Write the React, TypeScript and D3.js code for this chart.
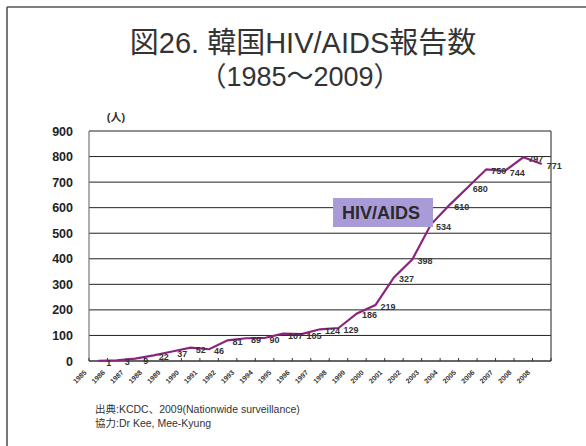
import React from "react";
import * as d3 from "d3";

const years = [
  "1985","1986","1987","1988","1989","1990","1991","1992","1993","1994",
  "1995","1996","1997","1998","1999","2000","2001","2002","2003","2004",
  "2005","2006","2007","2008","2009",
];
// the reference mislabels the last year as 2008
const yearLabels = [
  "1985","1986","1987","1988","1989","1990","1991","1992","1993","1994",
  "1995","1996","1997","1998","1999","2000","2001","2002","2003","2004",
  "2005","2006","2007","2008","2008",
];
const cases = [1,3,9,22,37,52,46,81,89,90,107,105,124,129,186,219,327,398,534,610,680,750,744,797,771];
const yTicks = [0,100,200,300,400,500,600,700,800,900];

const W = 586, H = 446;
const left = 89, right = 551, top = 131, bottom = 361;

export default function App() {
  const x = d3.scaleBand<string>().domain(years).range([left, right]);
  const y = d3.scaleLinear().domain([0, 900]).range([bottom, top]);
  const cx = (yr: string) => (x(yr) as number) + x.bandwidth() / 2;
  const line = d3.line<number>().x((_, i) => cx(years[i])).y((d) => y(d));
  const latin = "'Liberation Sans', Arial, 'Noto Sans CJK JP', sans-serif";
  const boundaries = years.map((yr) => x(yr) as number).concat([right]);

  return (
    <svg width={W} height={H} style={{ position: "absolute", left: 0, top: 0, background: "#fff" }} fontFamily={latin}>
      <rect x={0} y={0} width={W} height={H} fill="#fff" />
      <line x1={7} y1={7} x2={W} y2={7} stroke="#555" strokeWidth={1.6} />
      <line x1={7} y1={7} x2={7} y2={H} stroke="#555" strokeWidth={1.6} />

      <text x={303} y={53} textAnchor="middle" fontSize={29} fill="#333">図26. 韓国HIV/AIDS報告数</text>
      <text x={300} y={86} textAnchor="middle" fontSize={27} fill="#333">（1985〜2009）</text>
      <text x={116} y={121} textAnchor="middle" fontSize={11} fontWeight="bold" fill="#333">(人)</text>

      {yTicks.map((t) => (
        <g key={t}>
          {t > 0 && <line x1={left} x2={right} y1={y(t)} y2={y(t)} stroke="#222" strokeWidth={1} />}
          <text x={73} y={y(t)} dy="0.36em" textAnchor="end" fontSize={12.5} fontWeight="bold" fill="#222">{t}</text>
        </g>
      ))}
      <line x1={left} x2={left} y1={top} y2={bottom} stroke="#777" strokeWidth={1.2} />
      <line x1={right} x2={right} y1={top} y2={bottom} stroke="#444" strokeWidth={1.2} />
      <line x1={left} x2={right} y1={bottom} y2={bottom} stroke="#333" strokeWidth={1.5} />
      {boundaries.map((b, i) => (
        <line key={i} x1={b} x2={b} y1={bottom} y2={bottom - 3} stroke="#333" strokeWidth={1} />
      ))}
      {years.map((yr, i) => {
        const px = (x(yr) as number) - 2;
        const py = 373;
        return (
          <text key={yr} x={px} y={py} transform={`rotate(-45 ${px} ${py})`} textAnchor="end" fontSize={7} fontWeight="bold" fill="#333">
            {yearLabels[i]}
          </text>
        );
      })}

      <path d={line(cases) as string} fill="none" stroke="#8b247d" strokeWidth={2.2} />
      {cases.map((v, i) => (
        <text key={i} x={cx(years[i]) + (i < 3 ? 8 : 5)} y={y(v) + 5} fontSize={9} fontWeight="bold" fill="#333">{v}</text>
      ))}

      <rect x={333} y={198} width={100} height={29} fill="#a99bd8" />
      <text x={381} y={219} textAnchor="middle" fontSize={18} fontWeight="bold" fill="#2a2a2a">HIV/AIDS</text>

      <text x={95} y={413} fontSize={10.5} fill="#333">出典:KCDC、2009(Nationwide surveillance)</text>
      <text x={95} y={427} fontSize={10.5} fill="#333">協力:Dr Kee, Mee-Kyung</text>
    </svg>
  );
}
